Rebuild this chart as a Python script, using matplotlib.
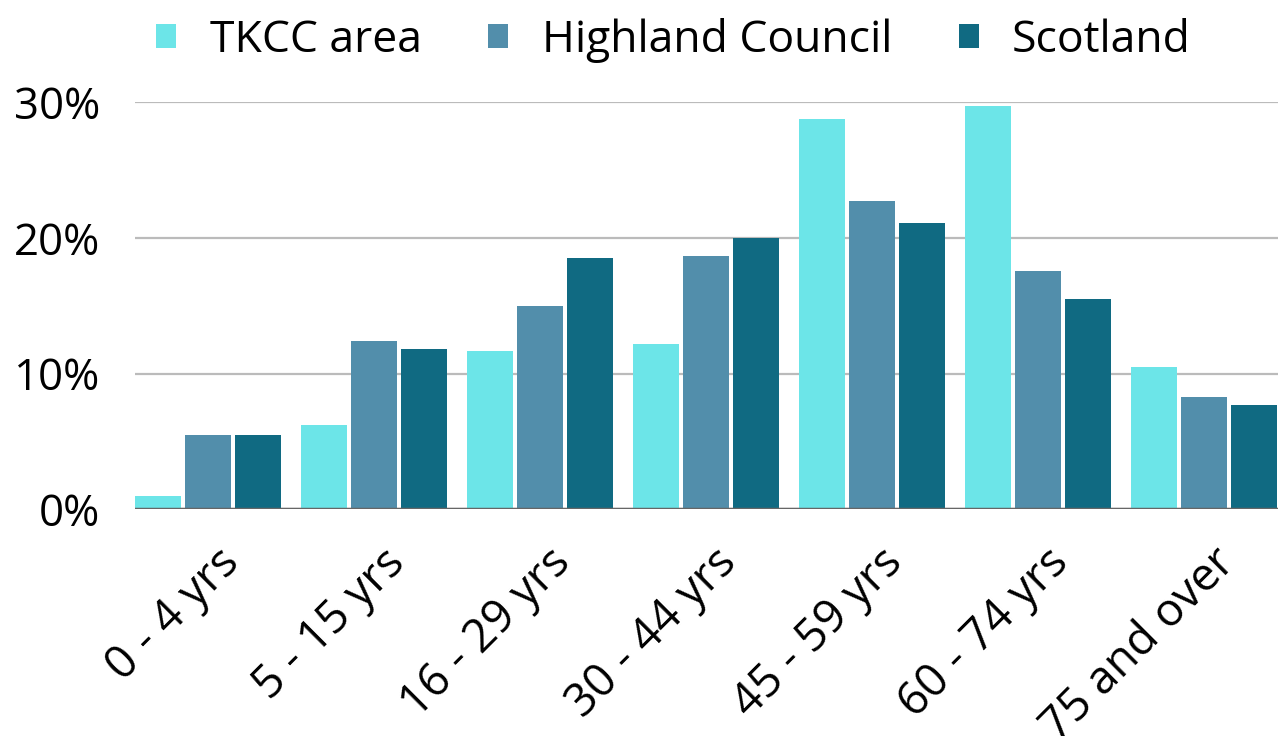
import matplotlib
matplotlib.use("Agg")
import matplotlib.pyplot as plt
import matplotlib.transforms as mtransforms
import numpy as np

categories = ["0 - 4 yrs", "5 - 15 yrs", "16 - 29 yrs", "30 - 44 yrs", "45 - 59 yrs", "60 - 74 yrs", "75 and over"]
series_names = ["TKCC area", "Highland Council", "Scotland"]
tkcc = [1.0, 6.2, 11.7, 12.2, 28.8, 29.7, 10.5]
highland = [5.5, 12.4, 15.0, 18.7, 22.7, 17.6, 8.3]
scotland = [5.5, 11.8, 18.5, 20.0, 21.1, 15.5, 7.7]
yticks = [0, 10, 20, 30]
ytick_labels = ["0%", "10%", "20%", "30%"]
colors = ["#6CE5E8", "#528EAB", "#106A82"]

plt.rcParams['font.family'] = ['Open Sans', 'DejaVu Sans']

fig = plt.figure(figsize=(12.78, 7.36), dpi=100)
ax = fig.add_axes([135 / 1278, 0.308, 1 - 135 / 1278, 0.861 - 0.308])

x = np.arange(len(categories))
step = 0.301
width = 0.277
for i, (vals, name) in enumerate(zip([tkcc, highland, scotland], series_names)):
    ax.bar(x + (i - 1) * step, vals, width=width, color=colors[i], label=name, zorder=3)

ax.set_ylim(0, 30)
ax.set_xlim(-0.4395, 6.446)
ax.set_yticks(yticks)
ax.set_yticklabels(ytick_labels)
ax.grid(axis='y', color='#BBBBBB', linewidth=1.6, zorder=0)
ax.axhline(0, color='#666666', linewidth=2.5, zorder=4)
for s in ax.spines.values():
    s.set_visible(False)
ax.tick_params(axis='y', length=0, labelsize=31.5, colors='black', pad=25)
ax.set_xticks(x)
ax.set_xticklabels(categories, rotation=45, ha='right', rotation_mode='anchor')
ax.tick_params(axis='x', length=0, labelsize=33, colors='black', pad=22)
offset = mtransforms.ScaledTranslation(0.08, 0, fig.dpi_scale_trans)
for lab in ax.get_xticklabels():
    lab.set_transform(lab.get_transform() + offset)

fig.legend(loc='upper center', bbox_to_anchor=(0.527, 1.03), ncol=3, frameon=False,
           fontsize=32, handlelength=0.45, handleheight=0.45, handletextpad=0.75, columnspacing=1.5)

fig.savefig("out.png", dpi=100)
